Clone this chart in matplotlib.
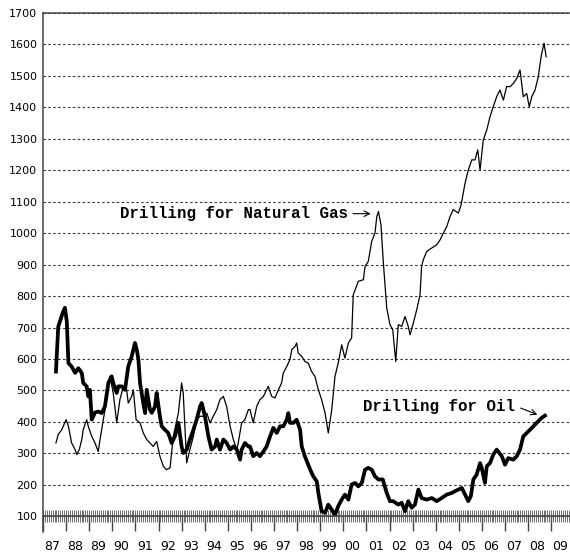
import matplotlib.pyplot as plt
from matplotlib.ticker import MultipleLocator

# ── Data (rig counts) ──
gas_years = [
    1987.56, 1987.66, 1987.81, 1988.00, 1988.10, 1988.24, 1988.39, 1988.46, 1988.57, 1988.68,
    1988.74, 1988.89, 1988.96, 1989.11, 1989.25, 1989.39, 1989.47, 1989.61, 1989.76, 1989.90,
    1990.04, 1990.19, 1990.33, 1990.48, 1990.62, 1990.69, 1990.84, 1990.91, 1991.03, 1991.20,
    1991.34, 1991.49, 1991.63, 1991.77, 1991.92, 1992.06, 1992.21, 1992.35, 1992.50, 1992.64,
    1992.86, 1993.00, 1993.07, 1993.22, 1993.36, 1993.51, 1993.65, 1993.80, 1993.94, 1994.09,
    1994.23, 1994.37, 1994.52, 1994.66, 1994.81, 1994.95, 1995.10, 1995.24, 1995.39, 1995.45,
    1995.60, 1995.74, 1995.89, 1995.96, 1996.10, 1996.25, 1996.39, 1996.54, 1996.68, 1996.75,
    1996.90, 1997.04, 1997.19, 1997.33, 1997.40, 1997.55, 1997.69, 1997.77, 1997.91, 1997.98,
    1998.05, 1998.20, 1998.34, 1998.48, 1998.63, 1998.77, 1998.92, 1999.06, 1999.21, 1999.35,
    1999.50, 1999.64, 1999.78, 1999.93, 2000.07, 2000.22, 2000.36, 2000.43, 2000.65, 2000.87,
    2000.94, 2001.08, 2001.23, 2001.37, 2001.45, 2001.52, 2001.63, 2001.73, 2001.88, 2002.02,
    2002.14, 2002.27, 2002.38, 2002.53, 2002.67, 2002.81, 2002.89, 2003.03, 2003.18, 2003.32,
    2003.39, 2003.46, 2003.61, 2003.83, 2004.04, 2004.19, 2004.33, 2004.48, 2004.62, 2004.76,
    2004.98, 2005.10, 2005.19, 2005.27, 2005.41, 2005.56, 2005.70, 2005.82, 2005.92, 2006.06,
    2006.21, 2006.35, 2006.49, 2006.64, 2006.78, 2006.93, 2007.07, 2007.22, 2007.36, 2007.51,
    2007.65, 2007.79, 2007.94, 2008.05, 2008.16, 2008.30, 2008.44, 2008.52, 2008.59, 2008.69,
    2008.78,
]
gas_rigs = [
    333, 360, 375, 407, 386, 333, 312, 296, 312, 344,
    375, 407, 386, 354, 333, 306, 344, 407, 471, 545,
    492, 397, 471, 513, 502, 460, 481, 502, 407, 397,
    365, 344, 333, 322, 338, 291, 259, 248, 254, 354,
    428, 524, 492, 270, 312, 354, 407, 418, 418, 428,
    397, 418, 439, 471, 481, 449, 386, 344, 312, 333,
    397, 407, 439, 439, 397, 449, 471, 481, 502, 513,
    481, 476, 502, 524, 555, 576, 598, 630, 640, 651,
    619, 608, 592, 587, 560, 545, 502, 471, 428, 365,
    439, 545, 587, 645, 603, 651, 667, 804, 847, 852,
    894, 910, 974, 1000, 1053, 1069, 1027, 910, 762, 709,
    693, 592, 709, 704, 735, 704, 677, 714, 757, 804,
    894, 915, 942, 953, 963, 979, 1000, 1021, 1053, 1075,
    1064, 1090, 1127, 1159, 1201, 1233, 1233, 1265, 1201, 1297,
    1328, 1370, 1402, 1434, 1455, 1423, 1466, 1466, 1476, 1492,
    1519, 1434, 1444, 1402, 1434, 1455, 1497, 1540, 1572, 1604,
    1561,
]

oil_years = [
    1987.56, 1987.66, 1987.85, 1987.95, 1988.03, 1988.10, 1988.24, 1988.39, 1988.53, 1988.68,
    1988.74, 1988.89, 1988.96, 1989.03, 1989.11, 1989.25, 1989.39, 1989.54, 1989.68, 1989.83,
    1989.97, 1990.04, 1990.19, 1990.26, 1990.41, 1990.55, 1990.69, 1990.84, 1990.98, 1991.06,
    1991.13, 1991.20, 1991.34, 1991.42, 1991.49, 1991.63, 1991.71, 1991.85, 1991.92, 1992.06,
    1992.14, 1992.28, 1992.42, 1992.57, 1992.71, 1992.86, 1993.00, 1993.07, 1993.22, 1993.36,
    1993.51, 1993.65, 1993.80, 1993.87, 1994.01, 1994.16, 1994.30, 1994.45, 1994.52, 1994.66,
    1994.81, 1994.95, 1995.10, 1995.24, 1995.39, 1995.53, 1995.60, 1995.74, 1995.89, 1995.96,
    1996.10, 1996.25, 1996.39, 1996.54, 1996.68, 1996.83, 1996.97, 1997.12, 1997.26, 1997.40,
    1997.55, 1997.62, 1997.69, 1997.84, 1997.98, 1998.13, 1998.20, 1998.34, 1998.48, 1998.63,
    1998.70, 1998.85, 1998.92, 1999.06, 1999.21, 1999.35, 1999.50, 1999.64, 1999.78, 1999.93,
    2000.07, 2000.22, 2000.36, 2000.51, 2000.65, 2000.80, 2000.94, 2001.08, 2001.23, 2001.37,
    2001.52, 2001.71, 2001.88, 2002.02, 2002.16, 2002.38, 2002.53, 2002.67, 2002.81, 2002.96,
    2003.10, 2003.25, 2003.39, 2003.61, 2003.83, 2004.04, 2004.26, 2004.48, 2004.69, 2004.84,
    2004.98, 2005.13, 2005.27, 2005.41, 2005.52, 2005.63, 2005.77, 2005.92, 2005.99, 2006.13,
    2006.21, 2006.35, 2006.49, 2006.64, 2006.86, 2007.00, 2007.14, 2007.36, 2007.51, 2007.65,
    2007.79, 2008.08, 2008.37, 2008.59, 2008.73,
]
oil_rigs = [
    560, 703, 746, 763, 719, 587, 576, 556, 571, 555,
    524, 513, 481, 502, 407, 430, 433, 428, 449, 524,
    545, 524, 492, 513, 513, 502, 576, 608, 651, 630,
    598, 524, 460, 428, 502, 439, 429, 449, 492, 418,
    386, 375, 365, 333, 354, 397, 322, 301, 312, 344,
    375, 407, 449, 460, 418, 354, 312, 322, 344, 312,
    344, 333, 312, 322, 312, 280, 312, 333, 322, 322,
    291, 301, 291, 306, 322, 354, 381, 365, 386, 386,
    407, 428, 397, 397, 407, 375, 322, 290, 264, 238,
    227, 211, 174, 116, 111, 137, 121, 105, 132, 153,
    169, 153, 201, 206, 195, 206, 248, 254, 248, 227,
    217, 217, 174, 148, 148, 137, 143, 116, 148, 127,
    137, 185, 158, 153, 158, 148, 158, 169, 174, 180,
    185, 190, 169, 148, 164, 217, 232, 269, 254, 206,
    259, 269, 296, 312, 291, 264, 285, 280, 291, 312,
    354, 375, 397, 413, 420,
]

years = list(range(1987, 2010))
year_labels = ["87", "88", "89", "90", "91", "92", "93", "94", "95", "96", "97", "98",
               "99", "00", "01", "02", "03", "04", "05", "06", "07", "08", "09"]
y_ticks = list(range(100, 1800, 100))

gas_label = "Drilling for Natural Gas"
oil_label = "Drilling for Oil"

# ── Figure ──
fig = plt.figure(figsize=(5.7, 5.56), dpi=100)
ax = fig.add_axes([43 / 570, 1 - 532 / 556, 526 / 570, 519 / 556])

ax.plot(gas_years, gas_rigs, color="black", lw=0.9)
ax.plot(oil_years, oil_rigs, color="black", lw=2.7, solid_joinstyle="round")

ax.set_xlim(1987, 2009.77)
ax.set_ylim(50, 1700)

# spines
ax.spines["right"].set_visible(False)
ax.spines["bottom"].set_position(("data", 100))
for side in ["left", "bottom", "top"]:
    ax.spines[side].set_color("#444444")
    ax.spines[side].set_linewidth(1.1)

# y axis + dashed grid
ax.set_yticks(y_ticks)
ax.set_yticklabels([str(v) for v in y_ticks], fontsize=8, family="DejaVu Sans")
ax.tick_params(axis="y", length=0, pad=4)
ax.yaxis.grid(True, linestyle=(0, (2.2, 2.2)), color="#333333", lw=0.8)

# x axis: year ticks + monthly minor ticks
ax.xaxis.remove_overlapping_locs = False
ax.set_xticks(years)
ax.set_xticklabels([])
ax.xaxis.set_minor_locator(MultipleLocator(1 / 12))
ax.tick_params(axis="x", which="major", direction="out", length=11, width=1.0, color="#444444")
ax.tick_params(axis="x", which="minor", direction="inout", length=9, width=0.6, color="#555555")

for yr, lab in zip(years, year_labels):
    ax.annotate(lab, xy=(yr + 0.4, 0), xycoords=("data", "axes fraction"),
                xytext=(0, -6), textcoords="offset points",
                ha="center", va="top", fontsize=9, family="DejaVu Sans")

# ── Annotations ──
ax.text(1990.33, 1062, gas_label, ha="left", va="center",
        fontsize=11.3, family="Liberation Mono", fontweight="bold")
ax.annotate("", xy=(2001.19, 1062), xytext=(2000.42, 1062),
            arrowprops=dict(arrowstyle="->", lw=0.8, color="black", shrinkA=0, shrinkB=0))

ax.text(2000.87, 448, oil_label, ha="left", va="center",
        fontsize=11.3, family="Liberation Mono", fontweight="bold")
ax.annotate("", xy=(2008.4, 423), xytext=(2007.68, 444),
            arrowprops=dict(arrowstyle="->", lw=0.8, color="black", shrinkA=0, shrinkB=0))

fig.savefig("out.png", dpi=100)
